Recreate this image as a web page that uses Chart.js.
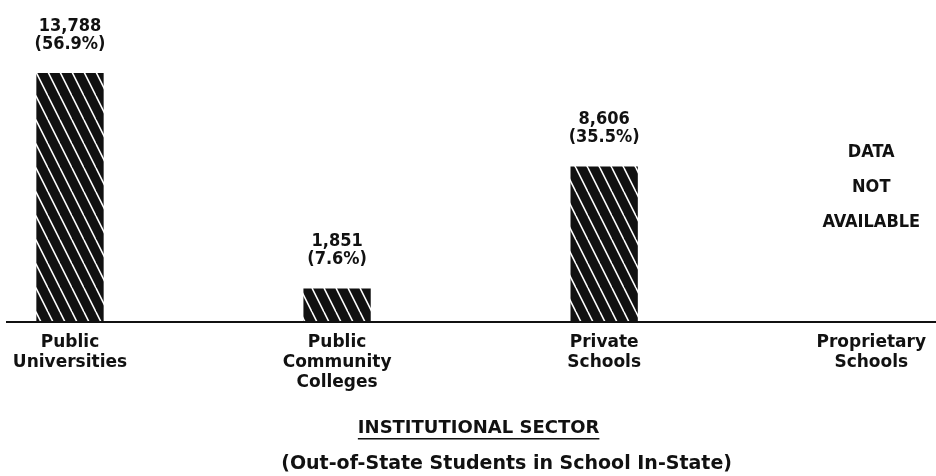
<!DOCTYPE html>
<html>
<head>
<meta charset="utf-8">
<script src="https://cdn.jsdelivr.net/npm/chart.js@4.4.1/dist/chart.umd.min.js"></script>
<style>
    html, body { margin: 0; padding: 0; background: #fff; }
    canvas { display: block; }
</style>
</head>
<body>
<canvas id="sektori" width="936" height="476"></canvas>
<script>
const sectors = [['Public', 'Universities'], ['Public', 'Community', 'Colleges'], ['Private', 'Schools'], ['Proprietary', 'Schools']]
const students = [13788, 1851, 8606, null]
const shares = [56.9, 7.6, 35.5, null]
const missingNote = ['DATA', 'NOT', 'AVAILABLE']
const axisTitle = 'INSTITUTIONAL SECTOR'
const axisSubtitle = '(Out-of-State Students in School In-State)'

const ink = '#111'
const labelFont = 'bold 18px "DejaVu Sans Condensed", "DejaVu Sans Mono", sans-serif'

// black fill with thin white diagonal streaks
function hatchPattern(ctx) {
    const tile = document.createElement('canvas')
    tile.width = 12
    tile.height = 24
    const t = tile.getContext('2d')
    t.fillStyle = ink
    t.fillRect(0, 0, 12, 24)
    t.strokeStyle = '#fff'
    t.lineWidth = 1.6
    for (let dx = -12; dx <= 12; dx += 12) {
        t.beginPath()
        t.moveTo(dx, 0)
        t.lineTo(dx + 12, 24)
        t.stroke()
    }
    return ctx.createPattern(tile, 'repeat')
}

// long base line under the bars, runs across the whole page
const baseLine = {
    id: 'baseLine',
    afterDatasetsDraw(chart) {
        const ctx = chart.ctx
        const y = chart.scales.y.getPixelForValue(0)
        ctx.save()
        ctx.strokeStyle = ink
        ctx.lineWidth = 2
        ctx.beginPath()
        ctx.moveTo(6, y)
        ctx.lineTo(chart.width, y)
        ctx.stroke()
        ctx.restore()
    }
}

// count and share above every bar, note where there is no data
const barLabels = {
    id: 'barLabels',
    afterDatasetsDraw(chart) {
        const ctx = chart.ctx
        const xs = chart.scales.x
        const ys = chart.scales.y
        ctx.save()
        ctx.font = labelFont
        ctx.fillStyle = ink
        ctx.textAlign = 'center'
        ctx.textBaseline = 'middle'
        students.forEach((n, i) => {
            const x = xs.getPixelForValue(i)
            if (n == null) {
                missingNote.forEach((line, j) => ctx.fillText(line, x, chart.chartArea.top + 101 + j * 35))
                return
            }
            const top = ys.getPixelForValue(n)
            ctx.fillText(n.toLocaleString('en-US'), x, top - 47)
            ctx.fillText('(' + shares[i].toFixed(1) + '%)', x, top - 29)
        })
        ctx.restore()
    }
}

const sectorTitle = {
    id: 'sectorTitle',
    afterDraw(chart) {
        const ctx = chart.ctx
        const cx = (chart.chartArea.left + chart.chartArea.right) / 2
        ctx.save()
        ctx.fillStyle = ink
        ctx.textAlign = 'center'
        ctx.textBaseline = 'middle'
        ctx.font = 'bold 18px "DejaVu Sans", sans-serif'
        ctx.fillText(axisTitle, cx + 8, 428)
        const w = ctx.measureText(axisTitle).width
        ctx.fillRect(cx + 8 - w / 2, 438, w, 1.5)
        ctx.font = 'bold 19px "DejaVu Sans", sans-serif'
        ctx.fillText(axisSubtitle, cx + 36, 464)
        ctx.restore()
    }
}

const ctx = document.getElementById('sektori').getContext('2d')

new Chart(ctx, {
    type: 'bar',
    data: {
        labels: sectors,
        datasets: [{
            data: students,
            backgroundColor: hatchPattern(ctx),
            borderWidth: 0,
            barPercentage: 0.252,
            categoryPercentage: 1,
            clip: false
        }]
    },
    options: {
        responsive: false,
        animation: false,
        devicePixelRatio: 1,
        layout: {
            padding: { top: 51, left: 70, right: 56, bottom: 0 }
        },
        plugins: {
            legend: { display: false },
            tooltip: { enabled: false }
        },
        scales: {
            x: {
                offset: false,
                grid: { display: false, drawTicks: false },
                border: { display: false },
                ticks: {
                    color: ink,
                    autoSkip: false,
                    maxRotation: 0,
                    padding: 10,
                    font: { family: 'DejaVu Sans', weight: 'bold', size: 17, lineHeight: 1.2 }
                },
                afterFit: (scale) => { scale.height = 154 }
            },
            y: {
                display: false,
                min: 0,
                max: 15000
            }
        }
    },
    plugins: [baseLine, barLabels, sectorTitle]
})
</script>
</body>
</html>
